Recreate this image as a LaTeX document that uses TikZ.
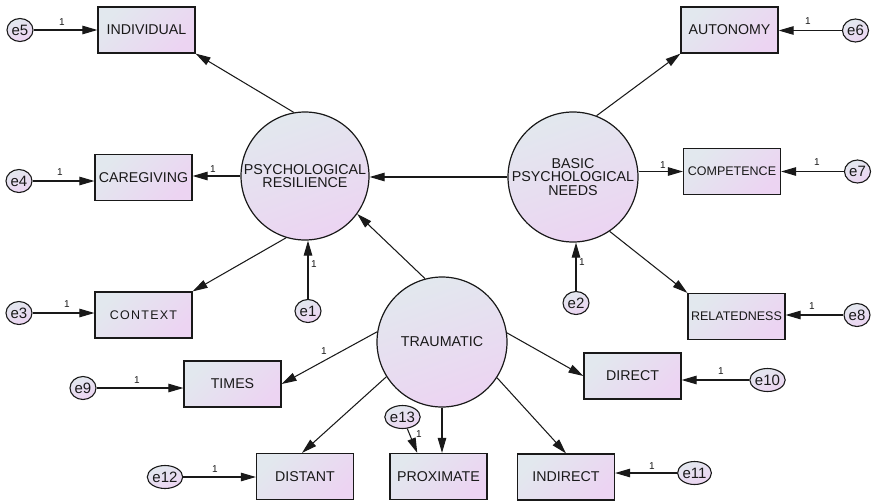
\documentclass[tikz,border=0pt]{standalone}
\usepackage{fontspec}
\setmainfont{Liberation Sans}
\usetikzlibrary{arrows.meta,shapes.geometric}
\definecolor{cA}{RGB}{226,232,238}
\definecolor{cB}{RGB}{236,212,242}
\definecolor{ink}{RGB}{25,25,25}
\begin{document}
\begin{tikzpicture}[x=1pt,y=-1pt,
  obs/.style={draw=ink, line width=1.2pt, rectangle, minimum width=97pt, minimum height=46pt, inner sep=0pt,
    top color=cA, bottom color=cB, shading angle=45, text=ink, font=\fontsize{14.2}{15}\selectfont},
  obsS/.style={obs, font=\fontsize{12.5}{14}\selectfont},
  lat/.style={draw=ink, line width=1.2pt, circle, inner sep=0pt, top color=cA, bottom color=cB, shading angle=20,
    text=ink, align=center, font=\fontsize{14.3}{13.5}\selectfont},
  err/.style={draw=ink, line width=1.1pt, ellipse, minimum width=26pt, minimum height=23pt, inner sep=0pt,
    top color=cA, bottom color=cB, shading angle=20, text=ink, font=\fontsize{15}{15}\selectfont},
  arr/.style={draw=ink, line width=1.05pt, -{Triangle[length=15pt,width=8.5pt]}},
  lbl/.style={text=ink, inner sep=0pt, font=\fontsize{10}{10}\selectfont}]
\useasboundingbox (0,0) rectangle (872,501);

% latent variables
\node[lat, minimum size=128pt] (pr) at (305,176) {PSYCHOLOGICAL\\RESILIENCE};
\node[lat, minimum size=130pt] (bpn) at (573,177) {BASIC\\PSYCHOLOGICAL\\NEEDS};
\node[lat, minimum size=130pt] (tr) at (442,342) {TRAUMATIC};

% observed variables
\node[obs] (ind) at (146.5,30) {INDIVIDUAL};
\node[obs] (care) at (143.5,177.5) {CAREGIVING};
\node[obsS] (ctx) at (143.5,315) {\addfontfeature{LetterSpace=10}CONTEXT};
\node[obs] (aut) at (729.5,30) {AUTONOMY};
\node[obsS] (comp) at (732,171.5) {COMPETENCE};
\node[obsS] (rel) at (736.5,316.5) {RELATEDNESS};
\node[obs] (times) at (232.5,384) {TIMES};
\node[obs] (dist) at (305,476.5) {DISTANT};
\node[obs] (prox) at (438.5,476.5) {PROXIMATE};
\node[obs] (dir) at (632.5,376) {DIRECT};
\node[obs] (indir) at (566,477) {INDIRECT};

% error terms
\node[err] (e5) at (20,30) {e5};
\node[err] (e4) at (19,181) {e4};
\node[err] (e3) at (19,313) {e3};
\node[err] (e1) at (308,311) {e1};
\node[err] (e6) at (855.5,30.5) {e6};
\node[err] (e7) at (857.5,171.5) {e7};
\node[err] (e2) at (576,303) {e2};
\node[err] (e8) at (857,315) {e8};
\node[err] (e9) at (83,388) {e9};
\node[err] (e12) at (165,477) {e12};
\node[err] (e13) at (402.5,417) {e13};
\node[err] (e10) at (767.5,380) {e10};
\node[err] (e11) at (694.5,473) {e11};

% structural paths
\draw[arr] (bpn.west) -- (bpn.west -| pr.east);
\draw[arr] (tr.105) -- (pr.-36);
\draw[arr] (pr.100) -- (ind.south east);
\draw[arr] (pr.west) -- (pr.west -| care.east);
\draw[arr] (pr.-107) -- (ctx.north east);
\draw[arr] (e1) -- (e1 |- pr.south);
\draw[arr] (bpn.69) -- (aut.south west);
\draw[arr] (comp -| bpn.east) -- (comp.west);
\draw[arr] (bpn.-56) -- (rel.north west);
\draw[arr] (e2) -- (e2 |- bpn.south);
\draw[arr] (tr.171) -- (times.east);
\draw[arr] (tr.-148) -- ([xshift=-3pt]dist.north);
\draw[arr] (tr.south) -- (tr.south |- prox.north);
\draw[arr] (e13) -- (prox.132);
\draw[arr] (tr.8) -- (dir.west);
\draw[arr] (tr.-33) -- (indir.north);

% error paths
\draw[arr] (e5) -- (e5 -| ind.west);
\draw[arr] (e4) -- (e4 -| care.west);
\draw[arr] (e3) -- (e3 -| ctx.west);
\draw[arr] (e6) -- (e6 -| aut.east);
\draw[arr] (e7) -- (e7 -| comp.east);
\draw[arr] (e8) -- (e8 -| rel.east);
\draw[arr] (e9) -- (e9 -| times.west);
\draw[arr] (e12) -- (e12 -| dist.west);
\draw[arr] (e10) -- (e10 -| dir.east);
\draw[arr] (e11) -- (e11 -| indir.east);

% labels
\node[lbl] (l5) at (62,22) {1};
\node[lbl] (l6) at (808,21) {1};
\node[lbl] (l4) at (60,172) {1};
\node[lbl] (lpc) at (213,169) {1};
\node[lbl] (l3) at (67,304) {1};
\node[lbl] (l1) at (314,264) {1};
\node[lbl] (lbc) at (663,165) {1};
\node[lbl] (l7) at (817,162) {1};
\node[lbl] (l2) at (582,262) {1};
\node[lbl] (l8) at (812,306) {1};
\node[lbl] (l9) at (137,380) {1};
\node[lbl] (ltt) at (324,351) {1};
\node[lbl] (l12) at (215,469) {1};
\node[lbl] (l13) at (419,434) {1};
\node[lbl] (l10) at (721,371) {1};
\node[lbl] (l11) at (652,466) {1};
\end{tikzpicture}
\end{document}
